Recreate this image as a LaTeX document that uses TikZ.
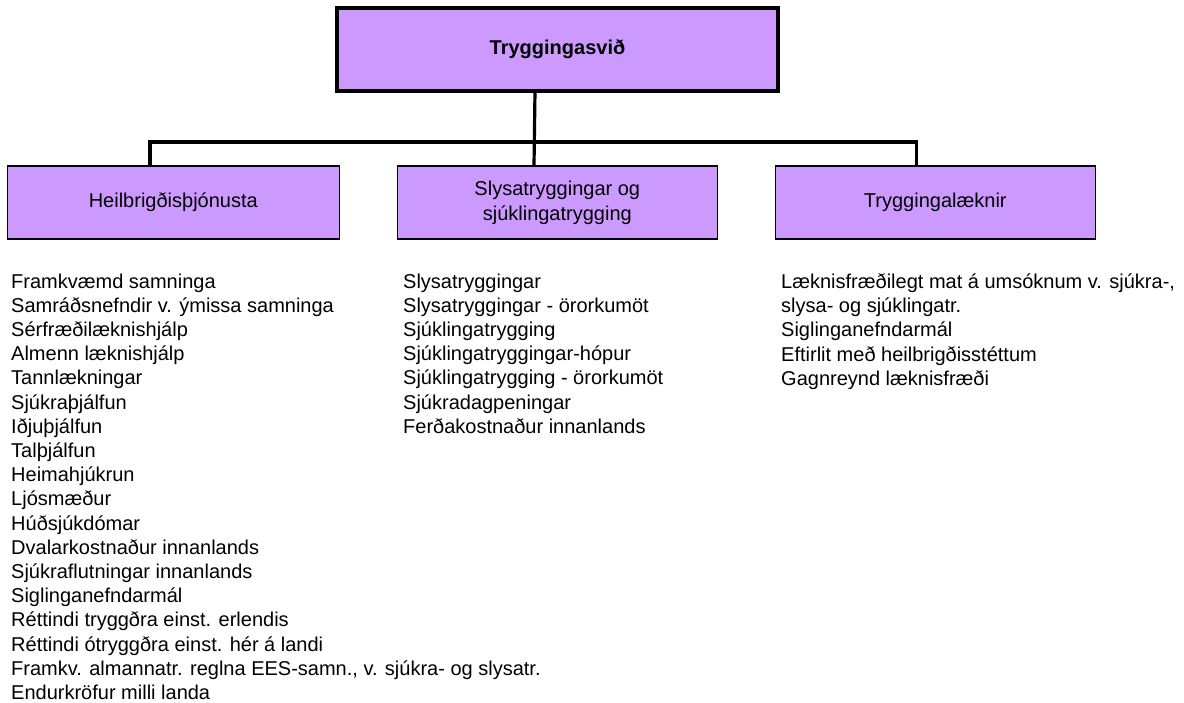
\documentclass[tikz,border=0pt]{standalone}
\usepackage{fontspec}
\setmainfont{Liberation Sans}
\usepackage{tikz}
\usetikzlibrary{positioning}
\definecolor{boxlilac}{RGB}{204,153,255}
\tikzset{
	unit/.style={% boxes of the organisation chart
		draw, rectangle,
		fill=boxlilac,
		line width=1.3pt,
		outer sep=0pt,
		align=center,
		font=\fontsize{20}{25}\selectfont
	},
	head/.style={
		unit,
		line width=3.2pt,
		font=\fontsize{20}{25}\selectfont\bfseries
	},
	tasks/.style={% lists of tasks below each box
		anchor=north west,
		inner sep=0pt,
		align=left,
		font=\fontsize{20}{24.2}\selectfont
	},
	link/.style={line width=3.2pt}
}
\begin{document}
\begin{tikzpicture}[x=1pt, y=-1pt, node distance=58pt]
	\useasboundingbox (0,0) rectangle (1184,703);
	\node[head, minimum width=441pt, minimum height=83pt] (top) at (557.5,49.5) {Tryggingasvið};

	\node[unit, minimum width=332pt, minimum height=73pt] (heil) at (173.3,202.5) {Heilbrigðisþjónusta};
	\node[unit, minimum width=320pt, minimum height=73pt, right=of heil] (slys) {Slysatryggingar og\\sjúklingatrygging};
	\node[unit, minimum width=320pt, minimum height=73pt, right=of slys] (tryg) {Tryggingalæknir};

	% connectors
	\draw[link] ([xshift=-22.5pt]top.south) -- ([xshift=-23.3pt]slys.north);
	\draw[link] ([xshift=-23.3pt]heil.north) -- ++(0,-24) -| ([xshift=-19pt]tryg.north);

	\node[tasks] (heillist) at (11,273.5) {Framkvæmd samninga\\
		Samráðsnefndir v. ýmissa samninga\\
		Sérfræðilæknishjálp\\
		Almenn læknishjálp\\
		Tannlækningar\\
		Sjúkraþjálfun\\
		Iðjuþjálfun\\
		Talþjálfun\\
		Heimahjúkrun\\
		Ljósmæður\\
		Húðsjúkdómar\\
		Dvalarkostnaður innanlands\\
		Sjúkraflutningar innanlands\\
		Siglinganefndarmál\\
		Réttindi tryggðra einst. erlendis\\
		Réttindi ótryggðra einst. hér á landi\\
		Framkv. almannatr. reglna EES-samn., v. sjúkra- og slysatr.\\
		Endurkröfur milli landa};
	\node[tasks] (slyslist) at (403,273.5) {Slysatryggingar\\
		Slysatryggingar - örorkumöt\\
		Sjúklingatrygging\\
		Sjúklingatryggingar-hópur\\
		Sjúklingatrygging - örorkumöt\\
		Sjúkradagpeningar\\
		Ferðakostnaður innanlands};
	\node[tasks] (tryglist) at (781,273.5) {Læknisfræðilegt mat á umsóknum v. sjúkra-,\\
		slysa- og sjúklingatr.\\
		Siglinganefndarmál\\
		Eftirlit með heilbrigðisstéttum\\
		Gagnreynd læknisfræði};
\end{tikzpicture}
\end{document}
